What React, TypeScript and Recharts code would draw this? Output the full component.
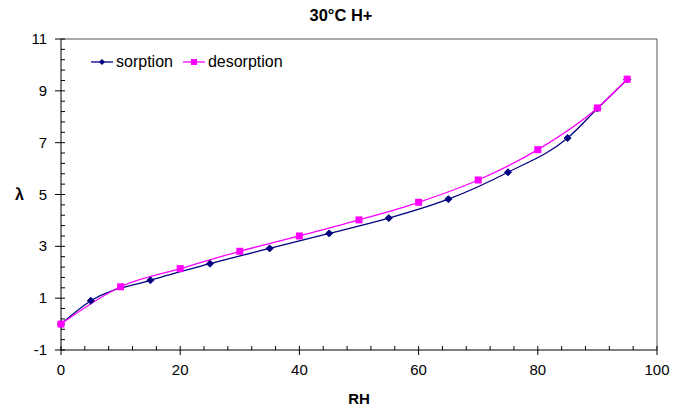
import React from 'react';
import { Line, LineChart, ReferenceLine, XAxis, YAxis } from 'recharts';

const sorptionRH = [0, 5, 15, 25, 35, 45, 55, 65, 75, 85, 90, 95];
const sorptionLambda = [0, 0.9, 1.69, 2.33, 2.92, 3.5, 4.09, 4.82, 5.86, 7.18, 8.32, 9.44];

const desorptionRH = [0, 10, 20, 30, 40, 50, 60, 70, 80, 90, 95];
const desorptionLambda = [0, 1.44, 2.14, 2.81, 3.4, 4.02, 4.7, 5.56, 6.73, 8.34, 9.45];

// labelled ticks every 20 / every 2, minor tick marks every 4 / every 0.4
const xTicks = [0, 20, 40, 60, 80, 100];
const yTicks = [-1, 1, 3, 5, 7, 9, 11];
const xMinorTicks = Array.from({ length: 26 }, (_, i) => i * 4);
const yMinorTicks = Array.from({ length: 31 }, (_, i) => Math.round((-1 + i * 0.4) * 10) / 10);

const NAVY = '#000080';
const MAGENTA = '#FF00FF';
const FONT = '"Liberation Sans", Arial, sans-serif';

const sorption = sorptionRH.map((x, i) => ({ x, y: sorptionLambda[i] }));
const desorption = desorptionRH.map((x, i) => ({ x, y: desorptionLambda[i] }));

function Diamond(props: any) {
  const { cx, cy, index } = props;
  if (cx == null || cy == null) return null;
  const r = 3.5;
  return (
    <polygon
      key={`d-${index}`}
      points={`${cx},${cy - r} ${cx + r},${cy} ${cx},${cy + r} ${cx - r},${cy}`}
      fill={NAVY}
      stroke={NAVY}
    />
  );
}

function Square(props: any) {
  const { cx, cy, index } = props;
  if (cx == null || cy == null) return null;
  const r = 3.5;
  return <rect key={`s-${index}`} x={cx - r} y={cy - r} width={r * 2} height={r * 2} fill={MAGENTA} />;
}

function XTick(props: any) {
  const { x, y, payload } = props;
  const major = xTicks.includes(payload.value);
  return (
    <g>
      <line x1={x} y1={y - 4} x2={x} y2={major ? y + 5 : y} stroke="#000" />
      {major && (
        <text x={x} y={y + 25} textAnchor="middle" fontSize={15} fontFamily={FONT} fill="#000">
          {payload.value}
        </text>
      )}
    </g>
  );
}

function YTick(props: any) {
  const { x, y, payload } = props;
  const major = yTicks.includes(payload.value);
  return (
    <g>
      <line x1={major ? x - 6 : x} y1={y} x2={x + 4} y2={y} stroke="#000" />
      {major && (
        <text x={x - 14} y={y + 5} textAnchor="end" fontSize={15} fontFamily={FONT} fill="#000">
          {payload.value}
        </text>
      )}
    </g>
  );
}

function LegendBox() {
  const item = (label: string, color: string, marker: 'diamond' | 'square') => (
    <span style={{ display: 'inline-flex', alignItems: 'center', marginRight: 10 }}>
      <svg width={22} height={10} style={{ marginRight: 3 }}>
        <line x1={0} y1={5} x2={22} y2={5} stroke={color} strokeWidth={1.3} />
        {marker === 'diamond' ? (
          <polygon points="11,2 14,5 11,8 8,5" fill={color} />
        ) : (
          <rect x={8} y={2} width={6} height={6} fill={color} />
        )}
      </svg>
      {label}
    </span>
  );
  return (
    <div
      style={{
        position: 'absolute',
        top: 53,
        left: 91,
        fontFamily: FONT,
        fontSize: 16,
        color: '#000',
        display: 'flex',
        whiteSpace: 'nowrap',
      }}
    >
      {item('sorption', NAVY, 'diamond')}
      {item('desorption', MAGENTA, 'square')}
    </div>
  );
}

export default function App() {
  return (
    <div style={{ position: 'absolute', left: 0, top: 0, width: 674, height: 407, background: '#fff' }}>
      <div
        style={{
          position: 'absolute',
          top: 6,
          left: 0,
          width: 674,
          textAlign: 'center',
          fontFamily: FONT,
          fontWeight: 'bold',
          fontSize: 16.5,
          paddingLeft: 4,
        }}
      >
        30°C H+
      </div>
      <LineChart width={674} height={407} margin={{ top: 39, right: 17, left: 0, bottom: 0 }}>
        <XAxis
          type="number"
          dataKey="x"
          domain={[0, 100]}
          ticks={xMinorTicks}
          interval={0}
          height={57}
          tick={<XTick />}
          tickLine={false}
          tickSize={0}
          tickMargin={0}
          axisLine={{ stroke: '#000' }}
          label={{
            value: 'RH',
            position: 'insideBottom',
            offset: 3,
            style: { fontFamily: FONT, fontWeight: 'bold', fontSize: 15, fill: '#000' },
          }}
        />
        <YAxis
          type="number"
          domain={[-1, 11]}
          ticks={yMinorTicks}
          interval={0}
          width={61}
          tick={<YTick />}
          tickLine={false}
          tickSize={0}
          tickMargin={0}
          axisLine={{ stroke: '#000' }}
          label={{
            value: 'λ',
            position: 'insideLeft',
            offset: 15,
            style: { fontFamily: FONT, fontWeight: 'bold', fontSize: 16, fill: '#000' },
          }}
        />
        <ReferenceLine y={11} stroke="#555" strokeWidth={1} />
        <ReferenceLine x={100} stroke="#555" strokeWidth={1} />
        <Line
          data={sorption}
          dataKey="y"
          name="sorption"
          type="monotone"
          stroke={NAVY}
          strokeWidth={1.3}
          dot={Diamond}
          activeDot={false}
          isAnimationActive={false}
        />
        <Line
          data={desorption}
          dataKey="y"
          name="desorption"
          type="monotone"
          stroke={MAGENTA}
          strokeWidth={1.3}
          dot={Square}
          activeDot={false}
          isAnimationActive={false}
        />
      </LineChart>
      <LegendBox />
    </div>
  );
}
